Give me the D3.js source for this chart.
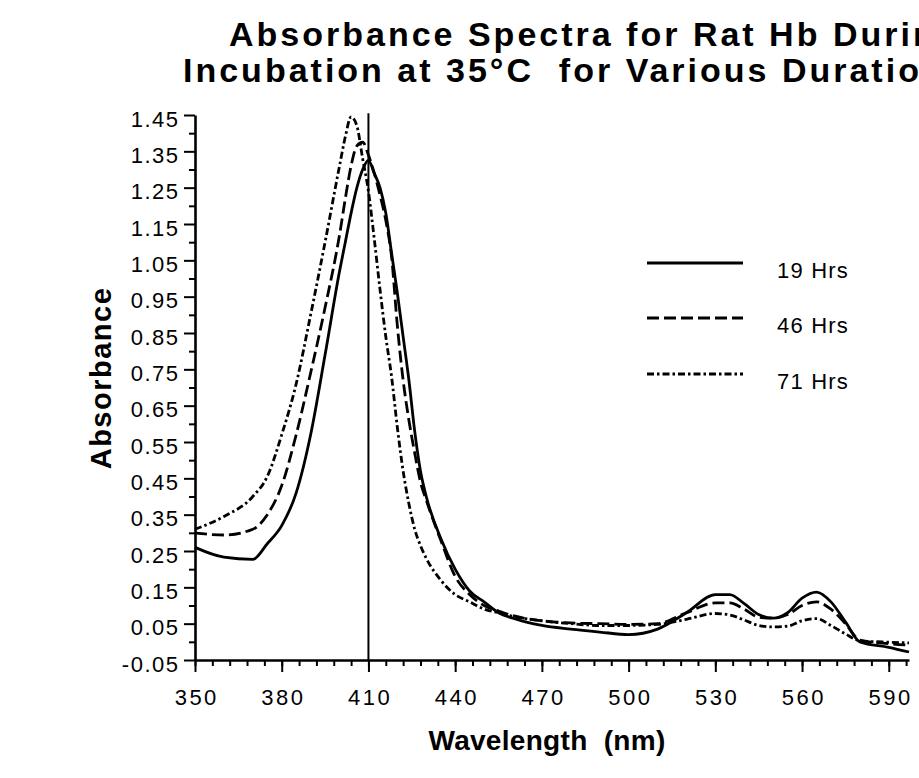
<!DOCTYPE html>
<html>
<head>
<meta charset="utf-8">
<script src="https://cdn.jsdelivr.net/npm/d3@7/dist/d3.min.js"></script>
<style>
  html, body { margin: 0; padding: 0; background: #fff; overflow: hidden; }
  svg { display: block; }
  text { font-family: "Liberation Sans", Arial, Helvetica, sans-serif; fill: #000; }
</style>
</head>
<body>
<svg id="chart" width="919" height="778"></svg>
<script>
// ---- data ----
const wavelengths = [350, 360, 370, 375, 380, 385, 390, 395, 400, 402, 404, 406, 408, 410, 412, 414, 416, 418, 420, 422, 424, 426, 428, 430, 435, 440, 445, 450, 455, 460, 470, 480, 490, 500, 510, 520, 530, 535, 540, 545, 550, 555, 560, 565, 570, 575, 580, 590, 597];
const hrs19 = [0.26, 0.233, 0.227, 0.27, 0.32, 0.41, 0.57, 0.79, 1.02, 1.10, 1.18, 1.25, 1.30, 1.325, 1.29, 1.25, 1.18, 1.07, 0.96, 0.84, 0.72, 0.58, 0.47, 0.40, 0.285, 0.20, 0.14, 0.11, 0.08, 0.065, 0.045, 0.035, 0.027, 0.02, 0.035, 0.08, 0.13, 0.13, 0.105, 0.075, 0.065, 0.08, 0.12, 0.137, 0.11, 0.055, 0.0, -0.015, -0.028];
const hrs46 = [0.30, 0.294, 0.31, 0.35, 0.43, 0.57, 0.74, 0.92, 1.12, 1.22, 1.31, 1.365, 1.375, 1.34, 1.29, 1.23, 1.16, 1.06, 0.87, 0.72, 0.61, 0.52, 0.44, 0.39, 0.28, 0.18, 0.13, 0.10, 0.085, 0.072, 0.058, 0.052, 0.05, 0.048, 0.05, 0.08, 0.107, 0.107, 0.09, 0.068, 0.065, 0.075, 0.10, 0.11, 0.09, 0.05, 0.005, -0.005, -0.009];
const hrs71 = [0.31, 0.345, 0.40, 0.455, 0.57, 0.71, 0.90, 1.10, 1.31, 1.39, 1.445, 1.42, 1.33, 1.24, 1.11, 0.97, 0.84, 0.73, 0.59, 0.47, 0.38, 0.31, 0.265, 0.23, 0.17, 0.13, 0.11, 0.09, 0.08, 0.07, 0.058, 0.05, 0.045, 0.045, 0.048, 0.062, 0.078, 0.074, 0.06, 0.045, 0.041, 0.043, 0.058, 0.064, 0.045, 0.022, 0.003, -0.001, -0.003];
const seriesNames = ["19 Hrs", "46 Hrs", "71 Hrs"];
const xTickValues = [350, 380, 410, 440, 470, 500, 530, 560, 590];
const yTickValues = [-0.05, 0.05, 0.15, 0.25, 0.35, 0.45, 0.55, 0.65, 0.75, 0.85, 0.95, 1.05, 1.15, 1.25, 1.35, 1.45];
const markerWavelength = 410;
const titleLines = ["Absorbance Spectra for Rat Hb During", "Incubation at 35°C  for Various Durations"];
const xTitle = "Wavelength  (nm)";
const yTitle = "Absorbance";

// ---- layout ----
const svg = d3.select("#chart");
const x = d3.scaleLinear().domain([350, 597]).range([195, 909]);
const y = d3.scaleLinear().domain([-0.05, 1.45]).range([660, 115]);

const series = [
  { name: seriesNames[0], values: hrs19, dash: null },
  { name: seriesNames[1], values: hrs46, dash: "12,5" },
  { name: seriesNames[2], values: hrs71, dash: "7,3,2.5,3" }
];

// minor ticks
const xMinor = d3.range(350, 597, 6);
const yMinor = d3.range(0, 1.41, 0.1);

svg.append("g").attr("transform", "translate(0,660)")
  .call(d3.axisBottom(x).tickValues(xMinor).tickSize(6).tickFormat(""))
  .call(g => g.select(".domain").remove())
  .selectAll("line").attr("stroke-width", 2);

svg.append("g").attr("transform", "translate(195,0)")
  .call(d3.axisLeft(y).tickValues(yMinor).tickSize(6).tickFormat(""))
  .call(g => g.select(".domain").remove())
  .selectAll("line").attr("stroke-width", 2);

// major x axis
const XLS = 2.5;
const gx = svg.append("g").attr("transform", "translate(0,660)")
  .call(d3.axisBottom(x).tickValues(xTickValues).tickSize(12).tickSizeOuter(0).tickPadding(17).tickFormat(d => String(d)));
gx.select(".domain").attr("stroke-width", 2.6);
gx.selectAll("line").attr("stroke-width", 2);
gx.selectAll("text").attr("font-size", 22).attr("letter-spacing", XLS).attr("dx", XLS / 2)
  .attr("font-family", "'Liberation Sans', Arial, sans-serif").attr("fill", "#000");

// major y axis
const YLS = 1.5;
const gy = svg.append("g").attr("transform", "translate(195,0)")
  .call(d3.axisLeft(y).tickValues(yTickValues).tickSize(11).tickSizeOuter(0).tickPadding(6).tickFormat(d => d.toFixed(2)));
gy.select(".domain").attr("stroke-width", 2.6);
gy.selectAll("line").attr("stroke-width", 2);
gy.selectAll("text").attr("font-size", 22).attr("letter-spacing", YLS).attr("dx", YLS).attr("dy", "0.5em")
  .attr("font-family", "'Liberation Sans', Arial, sans-serif").attr("fill", "#000");

// vertical marker at 410 nm
svg.append("line")
  .attr("x1", x(markerWavelength)).attr("x2", x(markerWavelength))
  .attr("y1", y(1.455)).attr("y2", y(-0.05))
  .attr("stroke", "#000").attr("stroke-width", 2);

// curves
const line = d3.line()
  .x((d, i) => x(wavelengths[i]))
  .y(d => y(d))
  .curve(d3.curveMonotoneX);

svg.append("g").selectAll("path").data(series).join("path")
  .attr("d", s => line(s.values))
  .attr("fill", "none")
  .attr("stroke", "#000")
  .attr("stroke-width", 2.8)
  .attr("stroke-linejoin", "round")
  .attr("stroke-dasharray", s => s.dash);

// legend
const legendY = [263, 318, 374];
const lg = svg.append("g");
series.forEach((s, i) => {
  lg.append("line").attr("x1", 647).attr("x2", 743).attr("y1", legendY[i]).attr("y2", legendY[i])
    .attr("stroke", "#000").attr("stroke-width", 2.8).attr("stroke-dasharray", s.dash);
  lg.append("text").attr("x", 777).attr("y", legendY[i] + 15)
    .attr("font-size", 22).attr("letter-spacing", 1.2).text(s.name);
});

// titles (the reference itself is clipped at the right edge)
svg.append("text").attr("x", 229).attr("y", 46).attr("font-size", 34).attr("font-weight", "bold")
  .attr("letter-spacing", 3).text(titleLines[0]);
svg.append("text").attr("x", 183).attr("y", 82).attr("font-size", 34).attr("font-weight", "bold")
  .attr("letter-spacing", 3).style("white-space", "pre").text(titleLines[1]);

svg.append("text").attr("transform", "translate(111,378) rotate(-90)")
  .attr("text-anchor", "middle").attr("font-size", 29).attr("font-weight", "bold")
  .attr("letter-spacing", 1.5).text(yTitle);

svg.append("text").attr("x", 547).attr("y", 750)
  .attr("text-anchor", "middle").attr("font-size", 28).attr("font-weight", "bold")
  .attr("letter-spacing", 0.3).style("white-space", "pre").text(xTitle);
</script>
</body>
</html>
